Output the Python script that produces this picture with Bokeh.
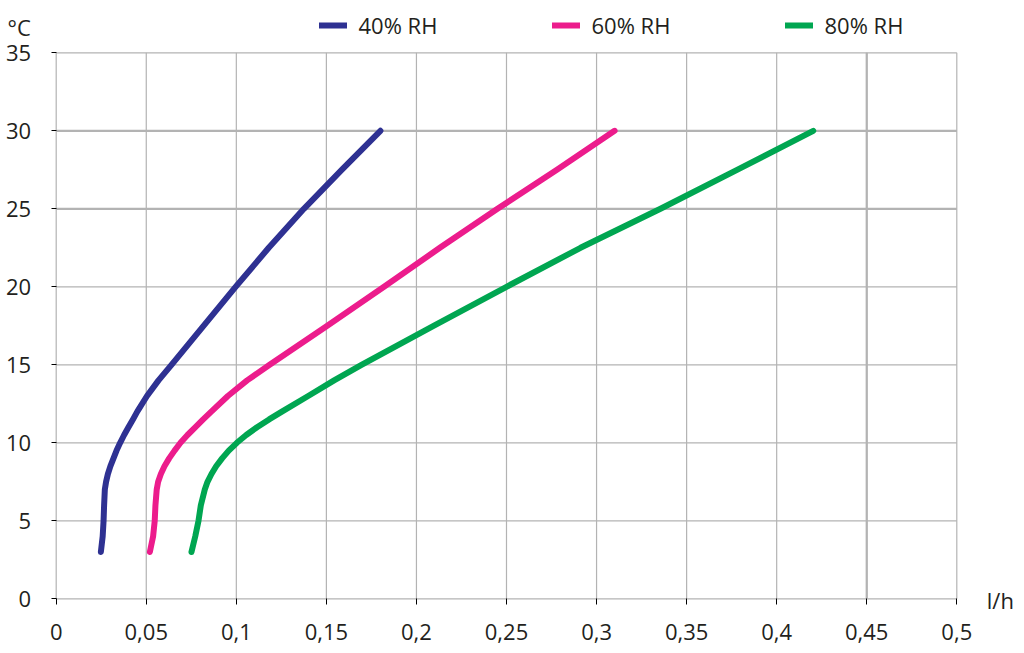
from bokeh.plotting import figure
from bokeh.models import Legend, LegendItem, Label, FixedTicker, Range1d, ColumnDataSource
from bokeh.embed import file_html
from bokeh.resources import INLINE

# ---- data ----
temperature = [3, 4, 5, 6, 7, 7.5, 8, 8.5, 9, 9.5, 10, 10.5, 11, 11.5, 12,
               13, 14, 15, 17.5, 20, 22.5, 25, 27.5, 30]
flow_40rh = [0.0248, 0.0258, 0.0263, 0.0266, 0.0270, 0.0277, 0.0287, 0.0301, 0.0318, 0.0335,
             0.0355, 0.0377, 0.0401, 0.0426, 0.0450, 0.0504, 0.0568, 0.0640, 0.0818, 0.0996,
             0.1180, 0.1375, 0.1585, 0.1800]
flow_60rh = [0.0520, 0.0538, 0.0547, 0.0551, 0.0558, 0.0566, 0.0581, 0.0601, 0.0627, 0.0657,
             0.0690, 0.0729, 0.0773, 0.0816, 0.0861, 0.0953, 0.1060, 0.1185, 0.1505, 0.1820,
             0.2130, 0.2450, 0.2780, 0.3100]
flow_80rh = [0.0751, 0.0772, 0.0790, 0.0803, 0.0825, 0.0840, 0.0862, 0.0888, 0.0921, 0.0958,
             0.1003, 0.1055, 0.1115, 0.1182, 0.1253, 0.1399, 0.1543, 0.1695, 0.2095, 0.2500,
             0.2911, 0.3355, 0.3780, 0.4203]
series_labels = ["40% RH", "60% RH", "80% RH"]
series_colors = ["#2e3192", "#ec1c8c", "#00a651"]

x_ticks = [0, 0.05, 0.1, 0.15, 0.2, 0.25, 0.3, 0.35, 0.4, 0.45, 0.5]
x_tick_labels = ["0", "0,05", "0,1", "0,15", "0,2", "0,25", "0,3", "0,35", "0,4", "0,45", "0,5"]
y_ticks = [0, 5, 10, 15, 20, 25, 30, 35]
heavy_x_lines = [0.45]
heavy_y_lines = [25, 30]
x_unit = "l/h"
y_unit = "°C"

FONT = "Open Sans"
TEXT = "#231f20"
GRID = "#b3b3b3"

# ---- layout geometry (pixels) ----
W, H = 1016, 645
X0_PX, X1_PX = 55.7, 956.3      # where x = 0 and x = 0.5 sit
Y0_PX, Y1_PX = 598.3, 52.3      # where y = 0 and y = 35 sit (from top)
x_min, x_max = x_ticks[0], x_ticks[-1]
y_min, y_max = y_ticks[0], y_ticks[-1]
sx = (X1_PX - X0_PX) / (x_max - x_min)
sy = (Y0_PX - Y1_PX) / (y_max - y_min)

p = figure(width=W, height=H,
           x_range=Range1d(x_min - X0_PX / sx, x_max + (W - X1_PX) / sx),
           y_range=Range1d(y_min - (H - Y0_PX) / sy, y_max + Y1_PX / sy),
           output_backend="svg", toolbar_location=None,
           min_border_left=0, min_border_right=0, min_border_top=0, min_border_bottom=0)
p.background_fill_color = "white"
p.border_fill_color = "white"
p.outline_line_color = None
p.xgrid.visible = False
p.ygrid.visible = False

# grid lines limited to the data area
n_x, n_y = len(x_ticks), len(y_ticks)
p.segment(x0=x_ticks, x1=x_ticks, y0=[y_min] * n_x, y1=[y_max] * n_x,
          line_color=GRID, line_width=1.2)
p.segment(x0=[x_min] * n_y, x1=[x_max] * n_y, y0=y_ticks, y1=y_ticks,
          line_color=GRID, line_width=1.2)
p.segment(x0=heavy_x_lines, x1=heavy_x_lines, y0=[y_min], y1=[y_max],
          line_color=GRID, line_width=2.2)
p.segment(x0=[x_min] * 2, x1=[x_max] * 2, y0=heavy_y_lines, y1=heavy_y_lines,
          line_color=GRID, line_width=2.2)

for ax in (p.xaxis, p.yaxis):
    ax.axis_line_color = None
    ax.major_tick_line_color = "black"
    ax.major_tick_in = 0
    ax.minor_tick_line_color = None
    ax.major_label_text_font = FONT
    ax.major_label_text_font_size = "22px"
    ax.major_label_text_color = TEXT

p.xaxis.fixed_location = y_min
p.xaxis.bounds = (x_min, x_max)
p.xaxis.ticker = FixedTicker(ticks=x_ticks)
p.xaxis.major_label_overrides = dict(zip(x_ticks, x_tick_labels))
p.xaxis.major_tick_out = 6
p.xaxis.major_label_standoff = 19
p.yaxis.fixed_location = x_min
p.yaxis.bounds = (y_min, y_max)
p.yaxis.ticker = FixedTicker(ticks=y_ticks)
p.yaxis.major_tick_out = 5
p.yaxis.major_label_standoff = 20

items = []
for flows, lab, col in zip((flow_40rh, flow_60rh, flow_80rh), series_labels, series_colors):
    src = ColumnDataSource(dict(x=flows, y=temperature))
    r = p.line("x", "y", source=src, line_color=col, line_width=6,
               line_cap="round", line_join="round")
    items.append(LegendItem(label=lab, renderers=[r]))

legend = Legend(items=items, orientation="horizontal", location=(318.5, H - 40),
                padding=0, margin=0, spacing=113, glyph_width=28, glyph_height=20,
                label_height=20, label_width=80, label_standoff=12,
                label_text_font=FONT, label_text_font_size="22px",
                label_text_color=TEXT, border_line_color=None,
                background_fill_alpha=0)
p.add_layout(legend)

p.add_layout(Label(x=x_min, y=y_max, x_offset=7 - X0_PX, y_offset=Y1_PX - 26, text=y_unit,
                   text_font=FONT, text_font_size="22px", text_color=TEXT,
                   text_baseline="alphabetic", text_align="left"))
p.add_layout(Label(x=x_max, y=y_min, x_offset=30, y_offset=-1, text=x_unit,
                   text_font=FONT, text_font_size="22px", text_color=TEXT,
                   text_baseline="alphabetic", text_align="left"))

open("out.html", "w").write(file_html(p, INLINE))
